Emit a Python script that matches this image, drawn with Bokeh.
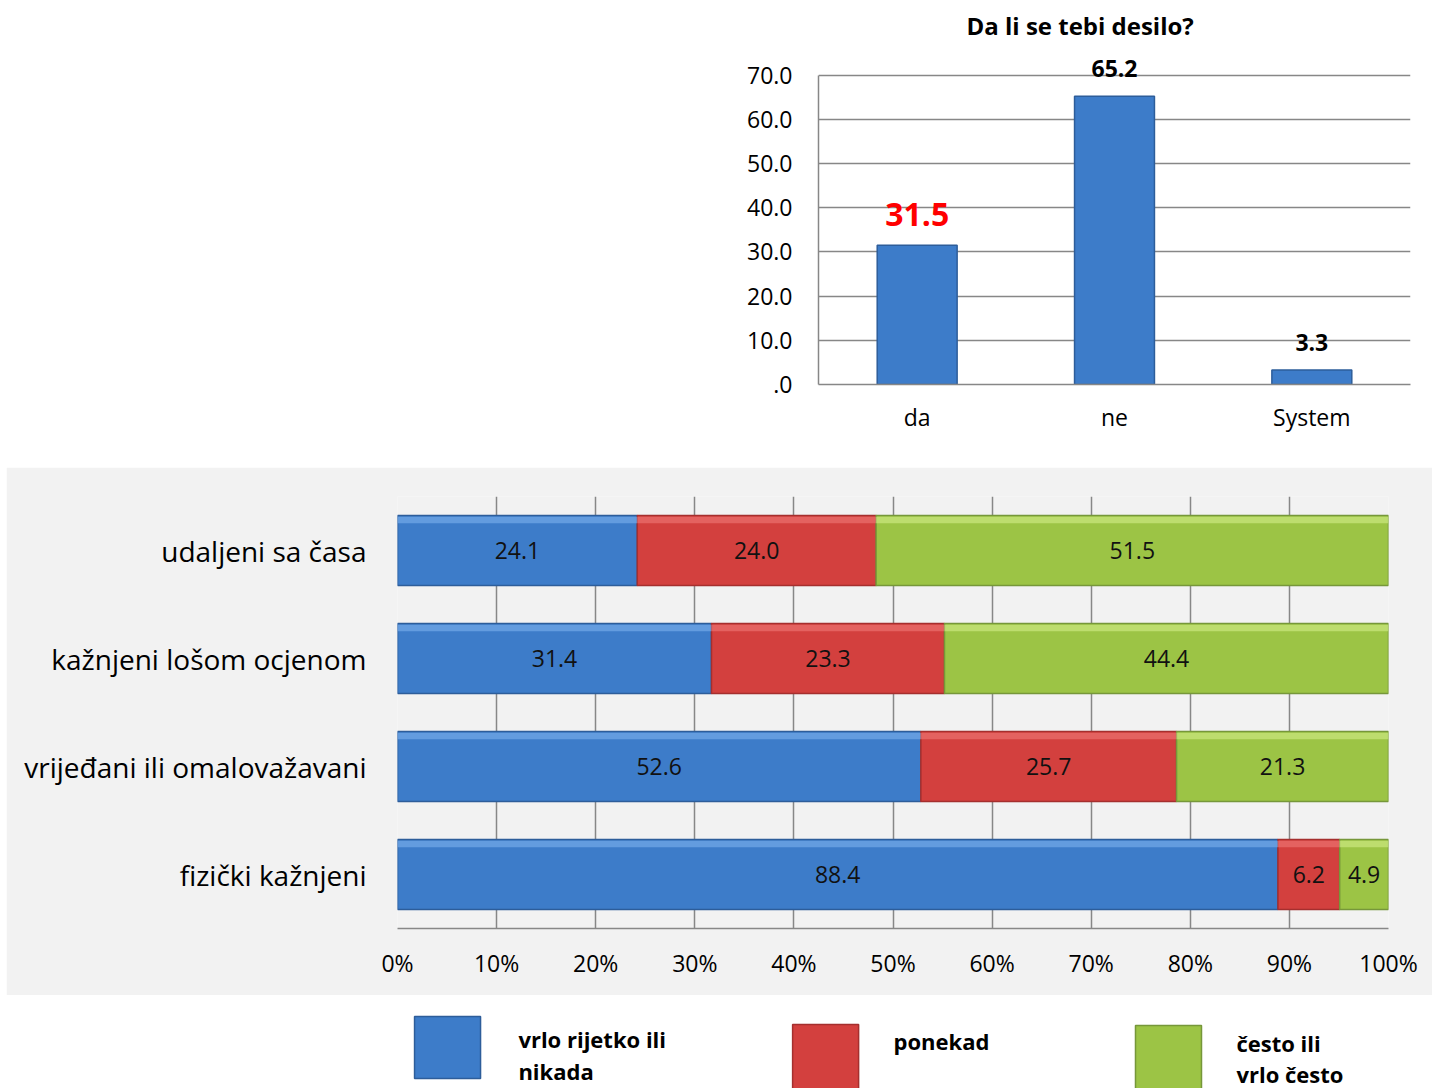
from bokeh.plotting import figure
from bokeh.models import (ColumnDataSource, FactorRange, Range1d, FixedTicker,
                          LabelSet, Spacer)
from bokeh.transform import dodge
from bokeh.layouts import column, row
from bokeh.core.properties import value
from bokeh.embed import file_html
from bokeh.resources import INLINE

# ---------------- data ----------------
TOP_TITLE = "Da li se tebi desilo?"
TOP_CATS = ["da", "ne", "System"]
TOP_VALUES = [31.5, 65.2, 3.3]
TOP_TICKS = [0, 10, 20, 30, 40, 50, 60, 70]
TOP_TICK_LABELS = [".0", "10.0", "20.0", "30.0", "40.0", "50.0", "60.0", "70.0"]

ROWS = ["udaljeni sa časa", "kažnjeni lošom ocjenom",
        "vrijeđani ili omalovažavani", "fizički kažnjeni"]
SERIES = ["vrlo rijetko ili nikada", "ponekad", "često ili vrlo često"]
LEGEND_LINES = [["vrlo rijetko ili", "nikada"], ["ponekad"], ["često ili", "vrlo često"]]
VRLO_RIJETKO = [24.1, 31.4, 52.6, 88.4]
PONEKAD = [24.0, 23.3, 25.7, 6.2]
CESTO = [51.5, 44.4, 21.3, 4.9]
PCT_TICKS = [0, 10, 20, 30, 40, 50, 60, 70, 80, 90, 100]
PCT_LABELS = ["0%", "10%", "20%", "30%", "40%", "50%", "60%", "70%", "80%", "90%", "100%"]

# ---------------- styles ----------------
FONT = "Open Sans"
GRID = "#878787"
BLUE, RED, GREEN = "#3d7cc9", "#d3403e", "#9cc445"
BLUE_L, RED_L, GREEN_L = "#2d5d9a", "#a52f2e", "#76973a"
BLUE_H, RED_H, GREEN_H = "#7db3ee", "#f07a78", "#d4ee8a"
PANEL = "#f2f2f2"

# ---------------- top chart ----------------
top = figure(width=710, height=467, x_range=FactorRange(factors=TOP_CATS, range_padding=0),
             y_range=Range1d(0, 76), output_backend="svg", toolbar_location=None,
             min_border_left=96, min_border_right=22, min_border_top=46, min_border_bottom=83)
top.outline_line_color = None
top.title.text = TOP_TITLE
top.title.text_font = FONT
top.title.text_font_size = "24px"
top.title.text_font_style = "bold"
top.title.text_color = "#000000"
top.title.align = "left"
top.title.offset = 148
top.title.standoff = 13

tsrc = ColumnDataSource(dict(
    cat=TOP_CATS, val=TOP_VALUES,
    lbl=["%.1f" % v for v in TOP_VALUES],
    color=["#ff0000" if v == TOP_VALUES[0] else "#000000" for v in TOP_VALUES],
    size=["32px" if v == TOP_VALUES[0] else "23px" for v in TOP_VALUES],
))
top.vbar(x="cat", top="val", width=0.405, source=tsrc,
         fill_color=BLUE, line_color=BLUE_L, line_width=1.5)
top.add_layout(LabelSet(x="cat", y="val", text="lbl", source=tsrc,
                        text_color="color", text_font_size="size",
                        text_font_style="bold", text_font=value(FONT),
                        text_align="center", text_baseline="bottom", y_offset=19))

top.xgrid.grid_line_color = None
top.ygrid.grid_line_color = GRID
top.ygrid.grid_line_width = 1.5
top.ygrid.ticker = FixedTicker(ticks=TOP_TICKS)
top.yaxis.ticker = FixedTicker(ticks=TOP_TICKS)
top.yaxis.bounds = (TOP_TICKS[0], TOP_TICKS[-1])
top.yaxis.major_label_overrides = {t: l for t, l in zip(TOP_TICKS, TOP_TICK_LABELS)}
for ax in (top.xaxis, top.yaxis):
    ax.axis_line_color = GRID
    ax.axis_line_width = 1.5
    ax.major_tick_line_color = None
    ax.minor_tick_line_color = None
    ax.major_label_text_font = FONT
    ax.major_label_text_font_size = "23px"
    ax.major_label_text_color = "#000000"
top.yaxis.major_label_standoff = 20
top.xaxis.major_label_standoff = 10

# ---------------- bottom chart ----------------
totals = [a + b + c for a, b, c in zip(VRLO_RIJETKO, PONEKAD, CESTO)]
s1 = [100 * a / t for a, t in zip(VRLO_RIJETKO, totals)]
s2 = [100 * b / t for b, t in zip(PONEKAD, totals)]
s3 = [100 * c / t for c, t in zip(CESTO, totals)]
bsrc = ColumnDataSource(dict(cat=ROWS, s1=s1, s2=s2, s3=s3))

BORDER_L, BORDER_R = 391, 44
bot = figure(width=1426, height=528, y_range=FactorRange(factors=ROWS[::-1], range_padding=0),
             x_range=Range1d(0, 100), output_backend="svg", toolbar_location=None,
             min_border_left=BORDER_L, min_border_right=BORDER_R, min_border_top=29,
             min_border_bottom=67, background_fill_color=PANEL, border_fill_color=PANEL)
bot.outline_line_color = None
BAR_H = 0.65
bot.hbar_stack(["s1", "s2", "s3"], y="cat", height=BAR_H, source=bsrc,
               fill_color=[BLUE, RED, GREEN], line_color=[BLUE_L, RED_L, GREEN_L],
               line_width=1.5)
# light bevel along the top edge of every segment
HL_H = 0.06
bot.hbar_stack(["s1", "s2", "s3"], y=dodge("cat", BAR_H / 2 - HL_H / 2 - 0.012, range=bot.y_range),
               height=HL_H, source=bsrc, fill_color=[BLUE_H, RED_H, GREEN_H],
               fill_alpha=0.6, line_color=None)

lab_x, lab_y, lab_t = [], [], []
for i, r in enumerate(ROWS):
    left = 0
    for share, raw in ((s1[i], VRLO_RIJETKO[i]), (s2[i], PONEKAD[i]), (s3[i], CESTO[i])):
        lab_x.append(left + share / 2)
        lab_y.append(r)
        lab_t.append("%.1f" % raw)
        left += share
lsrc = ColumnDataSource(dict(x=lab_x, y=lab_y, t=lab_t))
bot.add_layout(LabelSet(x="x", y="y", text="t", source=lsrc, text_font=value(FONT),
                        text_font_size="23px", text_color="#111111",
                        text_align="center", text_baseline="middle"))

bot.ygrid.grid_line_color = None
bot.xgrid.grid_line_color = GRID
bot.xgrid.grid_line_width = 1.5
bot.xaxis.ticker = FixedTicker(ticks=PCT_TICKS)
bot.xgrid.ticker = FixedTicker(ticks=PCT_TICKS)
bot.xaxis.major_label_overrides = {t: l for t, l in zip(PCT_TICKS, PCT_LABELS)}
bot.xaxis.axis_line_color = GRID
bot.xaxis.axis_line_width = 1.5
bot.yaxis.axis_line_color = None
for ax in (bot.xaxis, bot.yaxis):
    ax.major_tick_line_color = None
    ax.minor_tick_line_color = None
    ax.major_label_text_font = FONT
    ax.major_label_text_color = "#000000"
bot.xaxis.major_label_text_font_size = "23px"
bot.xaxis.major_label_standoff = 12
bot.yaxis.major_label_text_font_size = "28px"
bot.yaxis.major_label_standoff = 25

# ---------------- legend strip (same horizontal frame as bottom chart, 0-100 %) ----------------
LEG_H = 93
leg = figure(width=1426, height=LEG_H, x_range=Range1d(0, 100), y_range=Range1d(LEG_H, 0),
             output_backend="svg", toolbar_location=None,
             min_border_left=BORDER_L, min_border_right=BORDER_R, min_border_top=0,
             min_border_bottom=0)
leg.axis.visible = False
leg.grid.visible = False
leg.outline_line_color = None
LEG_SWATCH_X = [5.05, 43.2, 77.8]
LEG_SWATCH_TOP = [21, 29, 30]
LEG_SWATCH_H = [62, 66, 66]
LEG_TEXT_X = [12.2, 50.05, 84.66]
LEG_LINE_Y = [[43, 75], [45], [47, 78]]
leg.rect(x=LEG_SWATCH_X, y=[t + h / 2 for t, h in zip(LEG_SWATCH_TOP, LEG_SWATCH_H)],
         width=6.66, height=LEG_SWATCH_H,
         fill_color=[BLUE, RED, GREEN], line_color=[BLUE_L, RED_L, GREEN_L], line_width=1.5)
tx, ty, tt = [], [], []
for x0, ys, lines in zip(LEG_TEXT_X, LEG_LINE_Y, LEGEND_LINES):
    for yy, ln in zip(ys, lines):
        tx.append(x0)
        ty.append(yy)
        tt.append(ln)
leg.text(x=tx, y=ty, text=tt, text_font=value(FONT),
         text_font_size="22px", text_font_style="bold", text_baseline="middle",
         text_color="#000000")

layout = column(row(Spacer(width=722, height=467), top),
                row(Spacer(width=6, height=528), bot),
                row(Spacer(width=6, height=LEG_H), leg), spacing=0)
open("out.html", "w").write(file_html(layout, INLINE))
